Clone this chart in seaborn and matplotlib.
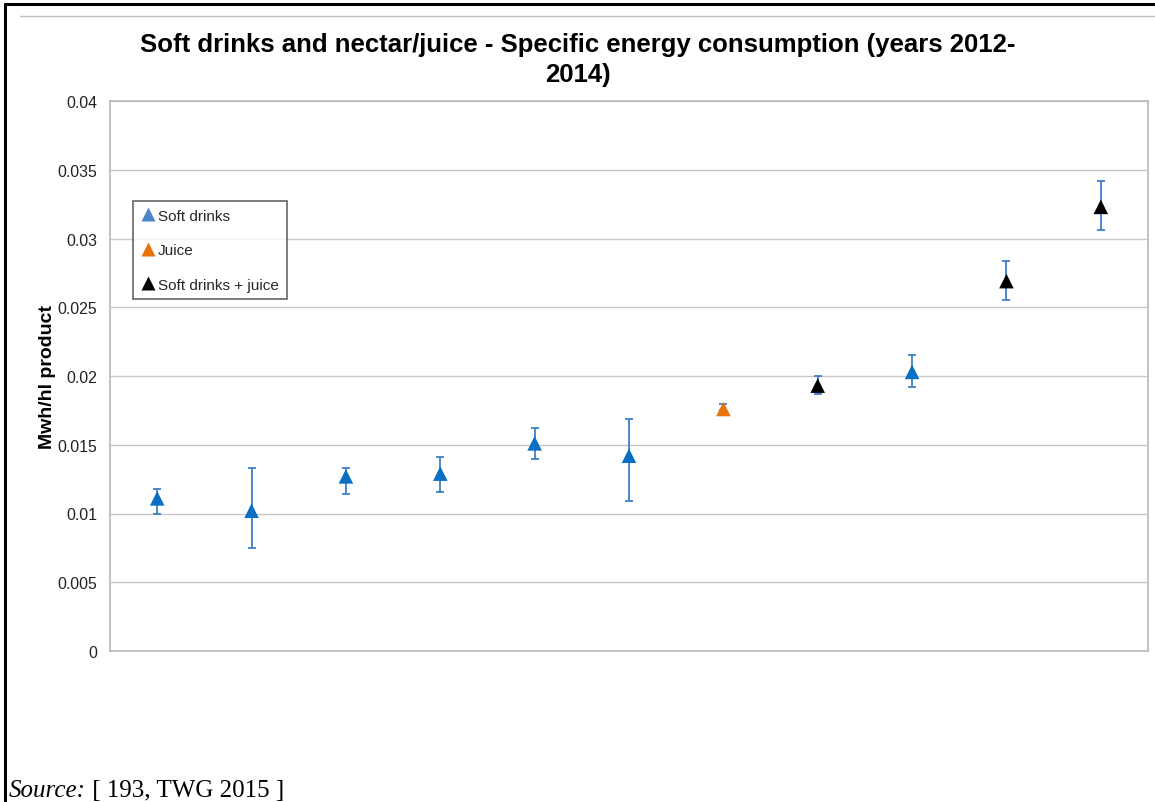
"""
Soft drinks and nectar/juice - specific energy consumption, scatter with error bars.
"""

import matplotlib
matplotlib.use("Agg")
import matplotlib.pyplot as plt
from matplotlib.lines import Line2D
import pandas as pd
import seaborn as sns

# valeurs (MWh/hl produit)
sites = list(range(1, 12))
groups = ["Soft drinks"] * 6 + ["Juice", "Soft drinks + juice", "Soft drinks",
                                "Soft drinks + juice", "Soft drinks + juice"]
values = [0.0111, 0.0102, 0.0127, 0.0129, 0.0151, 0.0142, 0.0176, 0.0193, 0.0203, 0.0269, 0.0323]
err_low = [0.0100, 0.0075, 0.0114, 0.0116, 0.0140, 0.0109, 0.0175, 0.0187, 0.0192, 0.0255, 0.0306]
err_high = [0.0118, 0.0133, 0.0133, 0.0141, 0.0162, 0.0169, 0.0180, 0.0200, 0.0215, 0.0284, 0.0342]
y_ticks = [0, 0.005, 0.01, 0.015, 0.02, 0.025, 0.03, 0.035, 0.04]
y_tick_labels = ["0", "0.005", "0.01", "0.015", "0.02", "0.025", "0.03", "0.035", "0.04"]

palette = {"Soft drinks": "#0a6fc2", "Juice": "#e8720c", "Soft drinks + juice": "#000000"}
legend_colors = {"Soft drinks": "#4a86c8", "Juice": "#e8720c", "Soft drinks + juice": "#000000"}

df = pd.DataFrame({"site": sites, "group": groups, "value": values,
                   "low": err_low, "high": err_high})
df["pos"] = range(len(df))

sns.set_style("white")
plt.rcParams["font.family"] = ["Liberation Sans", "DejaVu Sans"]

fig = plt.figure(figsize=(11.55, 8.03), dpi=100)
ax = fig.add_axes([110 / 1155, 151 / 803, 1038 / 1155, 550 / 803])

# barres d'erreur (toutes en bleu)
ax.errorbar(df["pos"], df["value"],
            yerr=[df["value"] - df["low"], df["high"] - df["value"]],
            fmt="none", ecolor="#3f7fc6", elinewidth=1.3, capsize=3, capthick=1.3, zorder=2)

sns.scatterplot(data=df, x="pos", y="value", hue="group", palette=palette,
                marker="^", s=110, edgecolor="none", ax=ax, legend=False, zorder=3)

ax.set_xlim(-0.5, 10.5)
ax.set_ylim(0, 0.04)
ax.set_xticks([])
ax.set_yticks(y_ticks)
ax.set_yticklabels(y_tick_labels, fontsize=11.4, color="#222222")
ax.tick_params(axis="y", length=5, width=0.8, color="#b0b0b0", pad=4)
ax.yaxis.grid(True, color="#c8c8c8", linewidth=1)
ax.set_axisbelow(True)
for side in ["left", "right", "top", "bottom"]:
    ax.spines[side].set_visible(True)
    ax.spines[side].set_color("#b8b8b8")
    ax.spines[side].set_linewidth(1.2)
ax.set_xlabel("")
ax.set_ylabel("Mwh/hl product", fontsize=14, fontweight="bold", labelpad=1, color="black")

handles = [Line2D([], [], marker="^", linestyle="none", markersize=10,
                  markerfacecolor=legend_colors[g], markeredgecolor="none", label=g)
           for g in ["Soft drinks", "Juice", "Soft drinks + juice"]]
leg = fig.legend(handles=handles, loc="upper left", bbox_to_anchor=(133 / 1155, 1 - 202 / 803),
                 frameon=True, fancybox=False, fontsize=11, labelspacing=1.34,
                 handletextpad=0.25, handlelength=0.9, borderpad=0.5, borderaxespad=0)
leg.get_frame().set_edgecolor("#404040")
leg.get_frame().set_linewidth(1.2)

fig.text(0.5, 1 - 60 / 803,
         "Soft drinks and nectar/juice - Specific energy consumption (years 2012-\n2014)",
         ha="center", va="center", fontsize=18.5, fontweight="bold", linespacing=1.3,
         color="black")

# cadre du document
fig.add_artist(Line2D([5 / 1155, 5 / 1155], [0, 1 - 5 / 803], color="black", linewidth=2.2))
fig.add_artist(Line2D([5 / 1155, 1], [1 - 5 / 803, 1 - 5 / 803], color="black", linewidth=2.2))
fig.add_artist(Line2D([20 / 1155, 1], [1 - 17 / 803, 1 - 17 / 803], color="#c0c0c0", linewidth=1))

serif = ["Liberation Serif", "DejaVu Serif"]
src = fig.text(9 / 1155, 1 / 803, "Source:", fontsize=18, style="italic",
               family=serif, ha="left", va="bottom", color="black")
ax.annotate(" [ 193, TWG 2015 ]", xy=(1, 0), xycoords=src, fontsize=18,
            family=serif, ha="left", va="bottom", annotation_clip=False, color="black")

fig.savefig("out.png", dpi=100)
plt.close(fig)
